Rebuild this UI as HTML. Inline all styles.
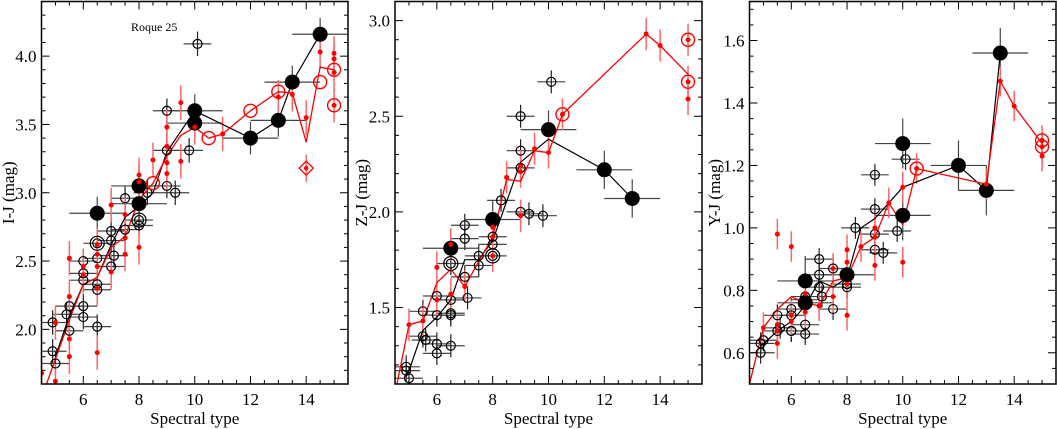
<!DOCTYPE html>
<html><head><meta charset="utf-8"><style>
html,body{margin:0;padding:0;background:#fff;}
svg{display:block;font-family:"Liberation Serif",serif;}
</style></head><body>
<svg id="chart" width="1057" height="429" viewBox="0 0 1057 429" xmlns="http://www.w3.org/2000/svg"></svg>
<script>
// ---- Panel 1: I-J ----
const p1Open = [[4.9,2.05],[4.9,1.84],[5.0,1.75],[5.4,2.11],[5.5,2.17],[5.5,1.99],[6,2.5],[6,2.41],[6,2.36],[6,2.17],[6,2.09],[6.5,2.63],[6.5,2.52],[6.5,2.33],[6.5,2.29],[6.5,2.02],[7,2.72],[7,2.65],[7,2.46],[7.1,2.54],[7.5,2.96],[7.5,2.73],[8,2.8],[8,2.76],[8.3,3.0],[9,3.6],[9,3.31],[9,3.05],[9.3,3.0],[9.8,3.31],[10.1,4.09]];
const p1Double = [[6.5,2.63],[8,2.8]];
const p1Filled = [[6.5,2.85],[8,3.05],[8,2.92],[10,3.6],[10,3.51],[12,3.4],[13,3.53],[13.5,3.81],[14.5,4.16]];
const p1BlackLine = [[5,1.8],[5.5,2.1],[6,2.33],[6.5,2.38],[7,2.62],[7.5,2.82],[8,2.9],[8.5,3.0],[9,3.3],[10,3.6],[12,3.4],[13,3.53],[13.5,3.81],[14.5,4.16]];
const p1RedLine = [[4.5,1.5],[5,1.78],[5.5,2.07],[6,2.33],[6.5,2.38],[7,2.6],[7.5,2.68],[8,2.95],[8.5,3.07],[9,3.27],[9.5,3.42],[10,3.48],[10.5,3.4],[11,3.43],[12,3.6],[13,3.74],[13.5,3.73],[14,3.37],[14.5,3.92],[15,3.9]];
const p1RedDots = [[4.5,1.68],[5,1.62],[5,2.05],[5.5,2.52],[5.5,2.24],[5.5,1.93],[5.5,1.8],[6,2.46],[6,2.4],[6.5,2.62],[6.5,2.55],[6.5,2.46],[6.5,2.3],[6.5,1.83],[7,2.91],[7,2.42],[7.5,2.84],[7.5,2.67],[7.5,2.55],[8,3.13],[8,3.08],[8,2.6],[8.5,3.24],[9,3.48],[9,3.34],[9,3.22],[9,3.14],[9.5,3.66],[9.5,3.23],[10,3.48],[11,3.43],[13,3.7],[13.5,3.72],[14,3.55],[14.5,4.03],[15,4.02],[15,3.98],[15,3.88],[15,3.64]];
const p1RedCircles = [[8.5,3.07],[10.5,3.4],[12,3.6],[13,3.74],[14.5,3.81],[15,3.9],[15,3.64]];
const p1RedDiamond = [[14,3.18]];
const p1Ticks = [2.0,2.5,3.0,3.5,4.0];
// ---- Panel 2: Z-J ----
const p2Open = [[4.9,1.19],[4.9,1.17],[5,1.13],[5.5,1.48],[5.5,1.35],[5.6,1.33],[6,1.56],[6,1.46],[6,1.31],[6,1.26],[6.5,1.73],[6.5,1.54],[6.5,1.47],[6.5,1.46],[6.5,1.3],[7,1.93],[7,1.86],[7,1.66],[7.1,1.55],[7.5,1.77],[7.5,1.72],[8,1.87],[8,1.83],[8,1.77],[8.3,2.06],[9,2.5],[9,2.32],[9,2.23],[9,2.0],[9.3,1.99],[9.8,1.98],[10.1,2.68]];
const p2Double = [[6.5,1.73],[8,1.77]];
const p2Filled = [[6.5,1.81],[8,1.96],[10,2.43],[12,2.22],[13,2.07]];
const p2BlackLine = [[4.9,1.15],[5,1.17],[5.5,1.38],[6,1.45],[6.5,1.54],[7,1.75],[7.5,1.75],[8,1.85],[9,2.26],[10,2.38],[12,2.22],[13,2.07]];
const p2RedLine = [[4.5,1.05],[5,1.41],[5.5,1.43],[6,1.63],[6.5,1.7],[7,1.61],[7.5,1.74],[8,1.87],[8.5,2.17],[9,2.16],[9.5,2.32],[10,2.31],[10.5,2.51],[13.5,2.93],[14,2.87],[15,2.72]];
const p2RedDots = [[5,1.41],[5.5,1.43],[6,1.71],[6,1.54],[6.5,1.83],[6.5,1.57],[7,1.61],[8,1.92],[8,1.87],[8,1.77],[8.5,2.18],[9,2.24],[9,2.21],[9,1.98],[9.5,2.33],[10,2.31],[10.5,2.51],[13.5,2.93],[14,2.87],[15,2.9],[15,2.68],[15,2.59]];
const p2RedCircles = [[10.5,2.51],[15,2.9],[15,2.68]];
const p2Ticks = [1.5,2.0,2.5,3.0];
// ---- Panel 3: Y-J ----
const p3Open = [[4.9,0.6],[4.9,0.63],[5,0.64],[5.5,0.72],[5.6,0.68],[5.5,0.67],[6,0.74],[6,0.72],[6,0.67],[6,0.67],[6.5,0.78],[6.5,0.77],[6.5,0.69],[6.5,0.66],[7,0.9],[7,0.85],[7,0.81],[7.1,0.78],[7.5,0.87],[7.5,0.74],[8,0.82],[8,0.81],[8.3,1.0],[9,1.17],[9,1.06],[9,0.98],[9,0.93],[9.3,0.92],[9.8,0.99],[10.1,1.22]];
const p3Double = [];
const p3Filled = [[6.5,0.83],[6.5,0.76],[8,0.85],[10,1.27],[10,1.04],[12,1.2],[13,1.12],[13.5,1.56]];
const p3BlackLine = [[4.9,0.62],[5.5,0.67],[6,0.7],[6.5,0.75],[7,0.83],[7.5,0.81],[8,0.84],[8.5,1.0],[9,1.03],[10,1.13],[12,1.2],[13,1.12],[13.5,1.56]];
const p3RedLine = [[4.5,0.5],[5,0.68],[5.5,0.74],[6,0.78],[6.5,0.76],[7,0.75],[7.5,0.83],[8,0.84],[8.5,0.94],[9,0.97],[9.5,1.08],[10,1.01],[10.5,1.19],[13,1.14],[13.5,1.47],[14,1.39],[15,1.27]];
const p3RedDots = [[5,0.68],[5.5,0.98],[5.5,0.69],[5.5,0.67],[5.5,0.63],[6,0.94],[6,0.72],[6,0.7],[6.5,0.79],[6.5,0.73],[7,0.75],[7.5,0.87],[7.5,0.78],[8,0.93],[8,0.89],[8,0.82],[8,0.72],[8.5,0.94],[9,1.0],[9,0.97],[9,0.88],[9.5,1.08],[10,1.13],[10,0.89],[10.5,1.19],[13,1.14],[13.5,1.47],[14,1.39],[15,1.28],[15,1.26],[15,1.23]];
const p3RedCircles = [[10.5,1.19],[15,1.28],[15,1.26]];
const p3Ticks = [0.6,0.8,1.0,1.2,1.4,1.6];
const xTicks = [6,8,10,12,14];

const NS = "http://www.w3.org/2000/svg";
const svg = document.getElementById('chart');
function mk(tag, attrs, parent){
  const e = document.createElementNS(NS, tag);
  for (const k in attrs) e.setAttribute(k, attrs[k]);
  (parent||svg).appendChild(e);
  return e;
}
const panels = [
  {name:'i-j', L:41.5, R:348, T:1.5, B:384, ymin:1.6, ymax:4.4, minor:0.1, ticks:p1Ticks, fmt:1, title:'I-J (mag)', tx:14,
   open:p1Open, dbl:p1Double, filled:p1Filled, bl:p1BlackLine, rl:p1RedLine, rd:p1RedDots, rc:p1RedCircles, dia:p1RedDiamond, ey:0.09, eyF:0.12},
  {name:'z-j', L:395, R:702, T:1.5, B:384, ymin:1.1, ymax:3.1, minor:0.1, ticks:p2Ticks, fmt:1, title:'Z-J (mag)', tx:367,
   open:p2Open, dbl:p2Double, filled:p2Filled, bl:p2BlackLine, rl:p2RedLine, rd:p2RedDots, rc:p2RedCircles, dia:[], ey:0.06, eyF:0.1},
  {name:'y-j', L:749.5, R:1056, T:1.5, B:384, ymin:0.5, ymax:1.725, minor:0.05, ticks:p3Ticks, fmt:1, title:'Y-J (mag)', tx:720,
   open:p3Open, dbl:p3Double, filled:p3Filled, bl:p3BlackLine, rl:p3RedLine, rd:p3RedDots, rc:p3RedCircles, dia:[], ey:0.035, eyF:0.08}
];
panels.forEach(p=>{
  const g = mk('g',{});
  
  
  const clipId = 'clip-'+p.name;
  const cp = mk('clipPath',{id:clipId}, g);
  mk('rect',{x:p.L,y:p.T,width:p.R-p.L,height:p.B-p.T}, cp);
  const X = v => p.L + (v-4.5)/(15.5-4.5)*(p.R-p.L);
  const Y = v => p.B - (v-p.ymin)/(p.ymax-p.ymin)*(p.B-p.T);
  const data = mk('g',{'clip-path':'url(#'+clipId+')'}, g);
  
  
  p.open.forEach(d=>{
    mk('line',{x1:X(d[0]-0.5),x2:X(d[0]+0.5),y1:Y(d[1]),y2:Y(d[1]),stroke:'#444','stroke-width':1.2}, data);
    mk('line',{x1:X(d[0]),x2:X(d[0]),y1:Y(d[1]-p.ey),y2:Y(d[1]+p.ey),stroke:'#222','stroke-width':1.2}, data);
  });
  p.filled.forEach(d=>{
    mk('line',{x1:X(d[0]-1),x2:X(d[0]+1),y1:Y(d[1]),y2:Y(d[1]),stroke:'#444','stroke-width':1.2}, data);
    mk('line',{x1:X(d[0]),x2:X(d[0]),y1:Y(d[1]-p.eyF),y2:Y(d[1]+p.eyF),stroke:'#444','stroke-width':1.2}, data);
  });
  p.rd.forEach(d=>{
    mk('line',{x1:X(d[0]),x2:X(d[0]),y1:Y(d[1]-p.ey*1.4),y2:Y(d[1]+p.ey*1.4),stroke:'#f66','stroke-width':1.5}, data);
  });
  const path = pts => pts.map((d,i)=>(i?'L':'M')+X(d[0]).toFixed(1)+','+Y(d[1]).toFixed(1)).join('');
  const bl = mk('path',{d:path(p.bl),fill:'none',stroke:'#000','stroke-width':1.2}, data);
  
  
  const rl = mk('path',{d:path(p.rl),fill:'none',stroke:'#f00','stroke-width':1.3}, data);
  
  
  p.open.forEach(d=>{
    const c = mk('circle',{cx:X(d[0]),cy:Y(d[1]),r:4.5,fill:'none',stroke:'#000','stroke-width':1.2}, data);
    
    
  });
  p.dbl.forEach(d=>{
    const c = mk('circle',{cx:X(d[0]),cy:Y(d[1]),r:7,fill:'none',stroke:'#000','stroke-width':1.2}, data);
    
    
  });
  p.filled.forEach(d=>{
    const c = mk('circle',{cx:X(d[0]),cy:Y(d[1]),r:7.5,fill:'#000'}, data);
    
    
  });
  p.rd.forEach(d=>{
    const c = mk('circle',{cx:X(d[0]),cy:Y(d[1]),r:2.5,fill:'#f00'}, data);
    
    
  });
  p.rc.forEach(d=>{
    const c = mk('circle',{cx:X(d[0]),cy:Y(d[1]),r:6.5,fill:'none',stroke:'#f00','stroke-width':1.4}, data);
    
    
  });
  p.dia.forEach(d=>{
    const cx=X(d[0]), cy=Y(d[1]);
    mk('line',{x1:cx,x2:cx,y1:Y(d[1]-0.1),y2:Y(d[1]+0.1),stroke:'#f55','stroke-width':1.3}, data);
    const e = mk('path',{d:`M${cx},${cy-7}L${cx+7},${cy}L${cx},${cy+7}L${cx-7},${cy}Z`,fill:'none',stroke:'#f00','stroke-width':1.3}, data);
    
    
    mk('circle',{cx:cx,cy:cy,r:2.3,fill:'#f00'}, data);
  });
  const fr = mk('rect',{x:p.L,y:p.T,width:p.R-p.L,height:p.B-p.T,fill:'none',stroke:'#000','stroke-width':1.5}, g);
  
  
  for (let v=5; v<=15.001; v+=0.5){
    const major = Math.abs(v/2-Math.round(v/2))<1e-6;
    const len = major?8:4;
    mk('line',{x1:X(v),x2:X(v),y1:p.B,y2:p.B-len,stroke:'#000','stroke-width':1}, g);
    mk('line',{x1:X(v),x2:X(v),y1:p.T,y2:p.T+len,stroke:'#000','stroke-width':1}, g);
  }
  xTicks.forEach(v=>{
    const t = mk('text',{x:X(v),y:p.B+21,'text-anchor':'middle','font-size':17}, g);
    t.textContent = v;
    
    
  });
  const n0 = Math.ceil(p.ymin/p.minor-1e-6), n1 = Math.floor(p.ymax/p.minor+1e-6);
  for (let n=n0; n<=n1; n++){
    const v = n*p.minor;
    const major = p.ticks.some(t=>Math.abs(t-v)<1e-6);
    const len = major?8:4;
    mk('line',{x1:p.L,x2:p.L+len,y1:Y(v),y2:Y(v),stroke:'#000','stroke-width':1}, g);
    mk('line',{x1:p.R,x2:p.R-len,y1:Y(v),y2:Y(v),stroke:'#000','stroke-width':1}, g);
  }
  p.ticks.forEach(v=>{
    const t = mk('text',{x:p.L-5,y:Y(v)+6,'text-anchor':'end','font-size':17}, g);
    t.textContent = v.toFixed(p.fmt);
    
    
  });
  const xt = mk('text',{x:(p.L+p.R)/2,y:424,'text-anchor':'middle','font-size':17}, g);
  xt.textContent = 'Spectral type';
  
  
  const ty = (p.T+p.B)/2;
  const yt = mk('text',{x:p.tx,y:ty,'text-anchor':'middle','font-size':17,transform:`rotate(-90 ${p.tx} ${ty})`}, g);
  yt.textContent = p.title;
  
  
});
const ann = mk('text',{x:131,y:31,'font-size':12});
ann.textContent = 'Roque 25';


</script>
</body></html>
